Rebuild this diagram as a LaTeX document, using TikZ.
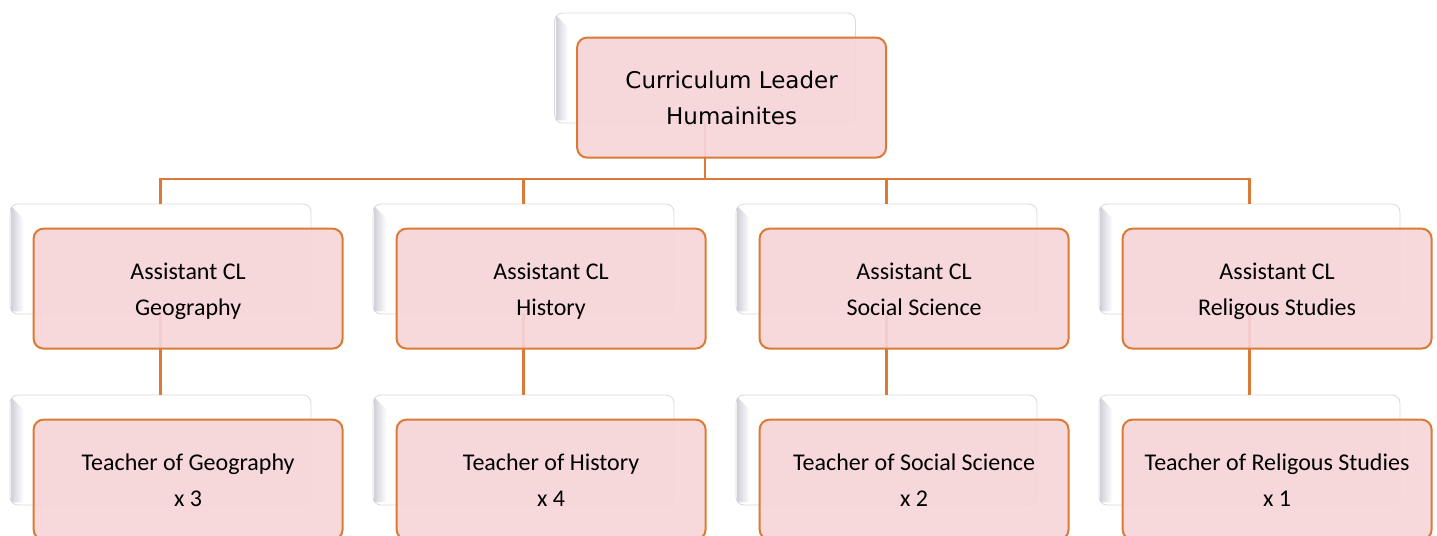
\documentclass[tikz,border=0pt]{standalone}
\usepackage{fontspec}
\setmainfont{Carlito}
\newfontfamily\headfont{DejaVu Sans}
\usetikzlibrary{positioning}
\definecolor{boxpink}{HTML}{F6D5D8}
\definecolor{boxorange}{HTML}{DB7A35}
\definecolor{bevelgray}{HTML}{D2D3DA}
\newcommand{\highstrut}{\rule{0pt}{14.6pt}}
\tikzset{
    back box/.style={
        draw=gray!30,
        fill=white,
        rounded corners=4pt,
        minimum width=150.5pt,
        minimum height=55pt
    },
    front box/.style={
        draw=boxorange,
        line width=1pt,
        fill=boxpink,
        fill opacity=0.92,
        text opacity=1,
        rounded corners=5pt,
        align=center,
        anchor=north west,
        minimum width=154.5pt,
        minimum height=60pt,
        font=\fontsize{12}{18}\selectfont
    },
    bevel/.style={
        left color=bevelgray,
        right color=white
    },
    link/.style={
        draw=boxorange,
        line width=1.25pt
    }
}

\begin{document}
\begin{tikzpicture}[x=0.5pt,y=-0.5pt]
  \useasboundingbox (0,0) rectangle (1437,536);
  \coordinate (bar) at (0,179);
  % leader
  \node[back box] (lead-b) at (705,68) {};
  \shade[bevel] ([shift={(2,3)}]lead-b.north west) -- ([shift={(14,15)}]lead-b.north west)
    -- ([shift={(14,-3)}]lead-b.south west) -- ([shift={(2,-3)}]lead-b.south west) -- cycle;
  % assistants and teachers
  \foreach \i/\x in {1/160.5,2/523.5,3/886.5,4/1249.5}{
    \node[back box] (asst\i-b) at (\x,259) {};
    \node[back box] (tchr\i-b) at (\x,450) {};
    \foreach \b in {asst\i-b,tchr\i-b}
      \shade[bevel] ([shift={(2,3)}]\b.north west) -- ([shift={(14,15)}]\b.north west)
        -- ([shift={(14,-3)}]\b.south west) -- ([shift={(2,-3)}]\b.south west) -- cycle;
    \draw[link] (lead-b.south) -- (lead-b.south |- bar) -| (asst\i-b.north);
    \draw[link] (asst\i-b.south) -- (tchr\i-b.north);
  }
  \node[front box,font=\headfont\fontsize{11.5}{18}\selectfont] (lead)
    at ([shift={(22,24)}]lead-b.north west) {\highstrut Curriculum Leader\\Humainites\strut};
  \foreach \i/\subj/\n in {1/Geography/3,2/History/4,3/Social Science/2,4/Religous Studies/1}{
    \node[front box] (asst\i) at ([shift={(23,24)}]asst\i-b.north west)
      {\highstrut Assistant CL\\\subj\strut};
    \node[front box] (tchr\i) at ([shift={(23,24)}]tchr\i-b.north west)
      {\highstrut Teacher of \subj\\x \n\strut};
  }
\end{tikzpicture}
\end{document}
